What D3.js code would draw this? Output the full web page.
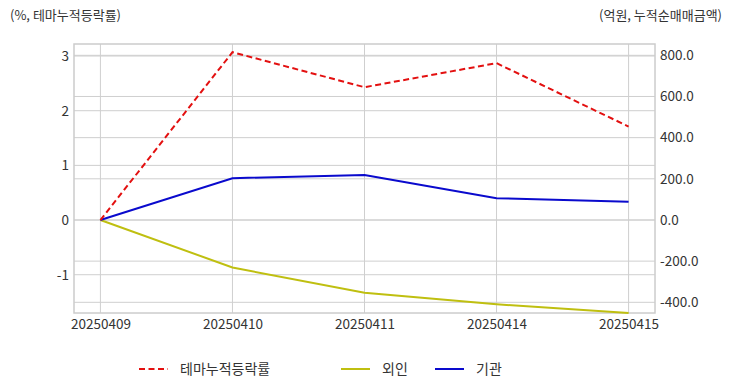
<!DOCTYPE html>
<html>
<head>
<meta charset="utf-8" />
<script src="https://cdn.jsdelivr.net/npm/d3@7"></script>
<style>
  body { margin: 0; background: #fff; }
  text { font-family: "Noto Sans CJK KR", "Noto Sans", sans-serif; fill: #333; }
</style>
</head>
<body>
<script>
var dates = ["20250409", "20250410", "20250411", "20250414", "20250415"];
var themeRate = [0, 3.07, 2.43, 2.87, 1.71];
var foreign = [0, -231, -354, -410, -452];
var institution = [0, 203, 219, 106, 89];
var leftTicks = [-1, 0, 1, 2, 3];
var rightTicks = [-400, -200, 0, 200, 400, 600, 800];
var leftDomain = [-1.70, 3.22];
var rightDomain = [-452, 855];

var w = 732, h = 392;
var m = {top: 44, right: 77, bottom: 79, left: 74};

var svg = d3.select("body").append("svg")
  .attr("width", w).attr("height", h);

var x = d3.scalePoint().domain(dates)
  .range([m.left, w - m.right]).padding(0.2);
var yL = d3.scaleLinear().domain(leftDomain).range([h - m.bottom, m.top]);
var yR = d3.scaleLinear().domain(rightDomain).range([h - m.bottom, m.top]);

var g = svg.append("g");

// grid
g.selectAll(".gl").data(leftTicks).enter().append("line")
  .attr("x1", m.left).attr("x2", w - m.right)
  .attr("y1", d => yL(d)).attr("y2", d => yL(d))
  .attr("stroke", "#cfcfcf").attr("stroke-width", 1);
g.selectAll(".gr").data(rightTicks).enter().append("line")
  .attr("x1", m.left).attr("x2", w - m.right)
  .attr("y1", d => yR(d)).attr("y2", d => yR(d))
  .attr("stroke", "#cfcfcf").attr("stroke-width", 1);
g.selectAll(".gx").data(dates).enter().append("line")
  .attr("x1", d => x(d)).attr("x2", d => x(d))
  .attr("y1", m.top).attr("y2", h - m.bottom)
  .attr("stroke", "#cfcfcf").attr("stroke-width", 1);

// frame
svg.append("rect")
  .attr("x", m.left).attr("y", m.top)
  .attr("width", w - m.left - m.right).attr("height", h - m.top - m.bottom)
  .attr("fill", "none").attr("stroke", "#cccccc").attr("stroke-width", 1.5);

// axes (hyphen minus like the original)
var fmtL = d => d3.format("d")(d).replace("\u2212", "-");
var fmtR = d => d3.format(".1f")(d).replace("\u2212", "-");
var axL = svg.append("g").attr("transform", "translate(" + m.left + ",0)")
  .call(d3.axisLeft(yL).tickValues(leftTicks).tickSize(0).tickPadding(5).tickFormat(fmtL));
var axR = svg.append("g").attr("transform", "translate(" + (w - m.right) + ",0)")
  .call(d3.axisRight(yR).tickValues(rightTicks).tickSize(0).tickPadding(5).tickFormat(fmtR));
var axB = svg.append("g").attr("transform", "translate(0," + (h - m.bottom) + ")")
  .call(d3.axisBottom(x).tickSize(0).tickPadding(6));
[axL, axR, axB].forEach(function(a) {
  a.select(".domain").remove();
  a.selectAll("text").style("font-size", "13.5px").attr("fill", "#333");
});

// lines
var lineL = d3.line().x((d, i) => x(dates[i])).y(d => yL(d));
var lineR = d3.line().x((d, i) => x(dates[i])).y(d => yR(d));

svg.append("path").datum(foreign).attr("d", lineR)
  .attr("fill", "none").attr("stroke", "#bfbf10").attr("stroke-width", 2);
svg.append("path").datum(institution).attr("d", lineR)
  .attr("fill", "none").attr("stroke", "#0a0acd").attr("stroke-width", 2);
svg.append("path").datum(themeRate).attr("d", lineL)
  .attr("fill", "none").attr("stroke", "#e31010").attr("stroke-width", 2)
  .attr("stroke-dasharray", "6,3.5");

// axis titles
svg.append("text").attr("x", 10).attr("y", 20).style("font-size", "13px")
  .text("(%, 테마누적등락률)");
svg.append("text").attr("x", 722).attr("y", 20).attr("text-anchor", "end").style("font-size", "13px")
  .text("(억원, 누적순매매금액)");

// legend
var legend = [
  {name: "테마누적등락률", color: "#e31010", dash: "6,3.5", x: 139},
  {name: "외인", color: "#bfbf10", dash: null, x: 341},
  {name: "기관", color: "#0a0acd", dash: null, x: 435}
];
var lg = svg.selectAll(".lg").data(legend).enter().append("g");
lg.append("line").attr("x1", d => d.x).attr("x2", d => d.x + 29)
  .attr("y1", 369).attr("y2", 369)
  .attr("stroke", d => d.color).attr("stroke-width", 2)
  .attr("stroke-dasharray", d => d.dash);
lg.append("text").attr("x", d => d.x + 41).attr("y", 374)
  .style("font-size", "14px").text(d => d.name);
</script>
</body>
</html>
